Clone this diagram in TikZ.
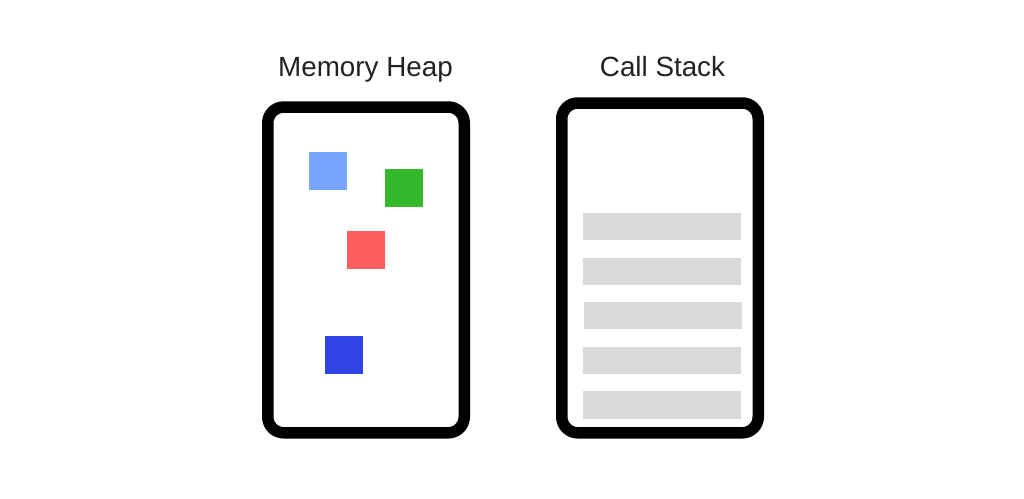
\documentclass[tikz,border=0pt]{standalone}
\usepackage{fontspec}
\setmainfont{Liberation Sans}
\definecolor{txt}{HTML}{222222}
\definecolor{lblue}{HTML}{76A6FF}
\definecolor{mgreen}{HTML}{33B82C}
\definecolor{mred}{HTML}{FF5C5C}
\definecolor{dblue}{HTML}{3044E6}
\definecolor{bar}{HTML}{D9D9D9}
\tikzset{
  title/.style={anchor=base, text=txt, font=\fontsize{27.8}{32}\selectfont, inner sep=0pt},
  frame/.style={draw=black, line width=11.5pt, rounded corners=16pt, fill=white},
}
\begin{document}
\begin{tikzpicture}[x=1pt,y=-1pt]
\useasboundingbox[fill=white] (0,0) rectangle (1024,498);
% titles
\node[title] (heapTitle) at (365.5,76) {Memory Heap};
\node[title] (stackTitle) at (662.5,76) {Call Stack};
% frames
\draw[frame] (267.75,107) rectangle (464.25,432.8);
\draw[frame] (561.75,103) rectangle (758.25,432.8);
% heap blocks
\fill[lblue] (309.3,152.3) rectangle (347,190);
\fill[mgreen] (385,169) rectangle (423,207);
\fill[mred] (347.3,231.3) rectangle (385,269);
\fill[dblue] (325,335.5) rectangle (363.3,374);
% stack frames
\fill[bar] (583.3,213.3) rectangle (741,240);
\fill[bar] (583,258.3) rectangle (741,285);
\fill[bar] (584,302.4) rectangle (742,329.4);
\fill[bar] (583.3,346.7) rectangle (741,374);
\fill[bar] (583.3,391.3) rectangle (741,418.7);
\end{tikzpicture}
\end{document}
